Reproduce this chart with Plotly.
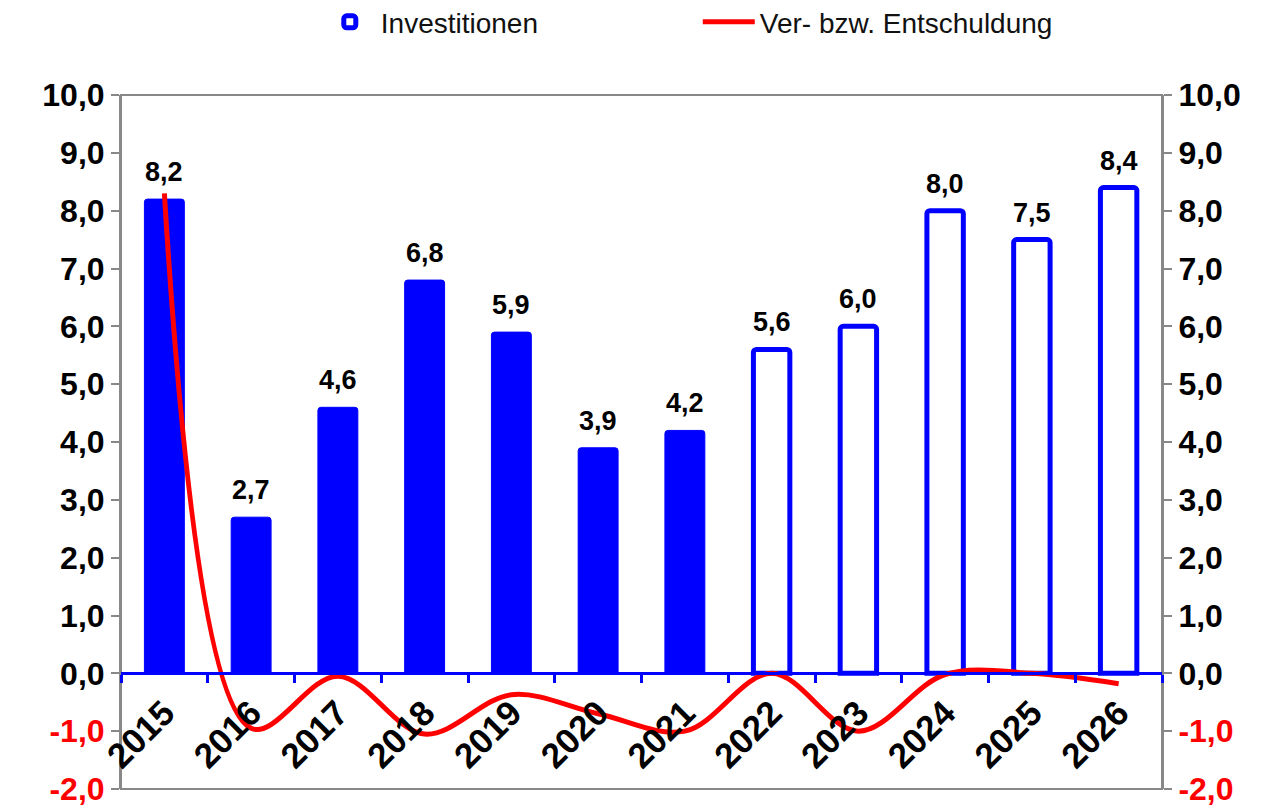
import plotly.graph_objects as go

# Jahre und Werte (Mio. EUR)
years = ["2015", "2016", "2017", "2018", "2019", "2020",
         "2021", "2022", "2023", "2024", "2025", "2026"]
invest_actual_years = years[:7]
invest_actual = [8.2, 2.7, 4.6, 6.8, 5.9, 3.9, 4.2]
invest_plan_years = years[7:]
invest_plan = [5.6, 6.0, 8.0, 7.5, 8.4]
debt_change = [8.3, -0.95, -0.05, -1.05, -0.37, -0.7, -1.0, 0.0, -1.0, -0.02, 0.0, -0.18]

tick_vals = list(range(-2, 11))

BLUE = "#0000FF"
RED = "#FF0000"
GRAY = "#888888"
FONT = "Liberation Sans, Arial, sans-serif"


def de(v):
    return f"{v:.1f}".replace(".", ",")


def tick_label(v):
    if v < 0:
        return f'<span style="color:{RED}">{de(v)}</span>'
    return de(v)


tick_text = [tick_label(v) for v in tick_vals]

fig = go.Figure()
fig.add_trace(go.Bar(
    x=invest_actual_years, y=invest_actual, name="Investitionen", showlegend=False,
    width=0.46, marker=dict(color=BLUE, line=dict(color=BLUE, width=1), cornerradius=3),
))
fig.add_trace(go.Bar(
    x=invest_plan_years, y=invest_plan, name="Investitionen",
    width=0.42, marker=dict(color="white", line=dict(color=BLUE, width=5), cornerradius=3),
))
fig.add_trace(go.Scatter(
    x=years, y=debt_change, name="Ver- bzw. Entschuldung", yaxis="y2",
    mode="lines", line=dict(color=RED, width=5, shape="spline", smoothing=1),
))

# Wertbeschriftungen über den Säulen (x als Kategorienindex)
for i, v in enumerate(invest_actual + invest_plan):
    fig.add_annotation(x=i, y=v, xref="x", yref="y", text=de(v), showarrow=False,
                       yanchor="bottom", yshift=10,
                       font=dict(family=FONT, size=27, color="black", weight="bold"))

yax = dict(range=[-2, 10], tickvals=tick_vals, ticktext=tick_text,
           showgrid=False, zeroline=False, showline=True, linecolor=GRAY, linewidth=2,
           ticks="outside", ticklen=8, tickwidth=2, tickcolor=GRAY,
           tickfont=dict(family=FONT, size=32, color="black", weight="bold"),
           ticklabeloverflow="allow", fixedrange=True)

fig.update_layout(
    width=1251, height=800,
    paper_bgcolor="white", plot_bgcolor="white",
    margin=dict(l=113, r=97, t=87, b=19, autoexpand=False),
    barmode="overlay",
    font=dict(family=FONT, color="black"),
    xaxis=dict(type="category", range=[-0.5, 11.5], anchor="free", position=2 / 12,
               showline=True, linecolor=BLUE, linewidth=3, showgrid=False,
               ticks="outside", tickson="boundaries", ticklen=8, tickwidth=3, tickcolor=BLUE,
               tickangle=-45, ticklabelstandoff=3,
               tickfont=dict(family=FONT, size=35, color="black", weight="bold")),
    yaxis=dict(side="left", **yax),
    yaxis2=dict(side="right", overlaying="y", **yax),
    legend=dict(orientation="h", x=0.19, xanchor="left", y=1.105, yanchor="middle",
                font=dict(family=FONT, size=28, color="#111111"),
                itemwidth=52, entrywidth=312, bgcolor="rgba(0,0,0,0)"),
    shapes=[dict(type="rect", xref="paper", yref="paper", x0=0, x1=1, y0=0, y1=1,
                 line=dict(color=GRAY, width=2), layer="below")],
)

fig.write_html("out.html")
